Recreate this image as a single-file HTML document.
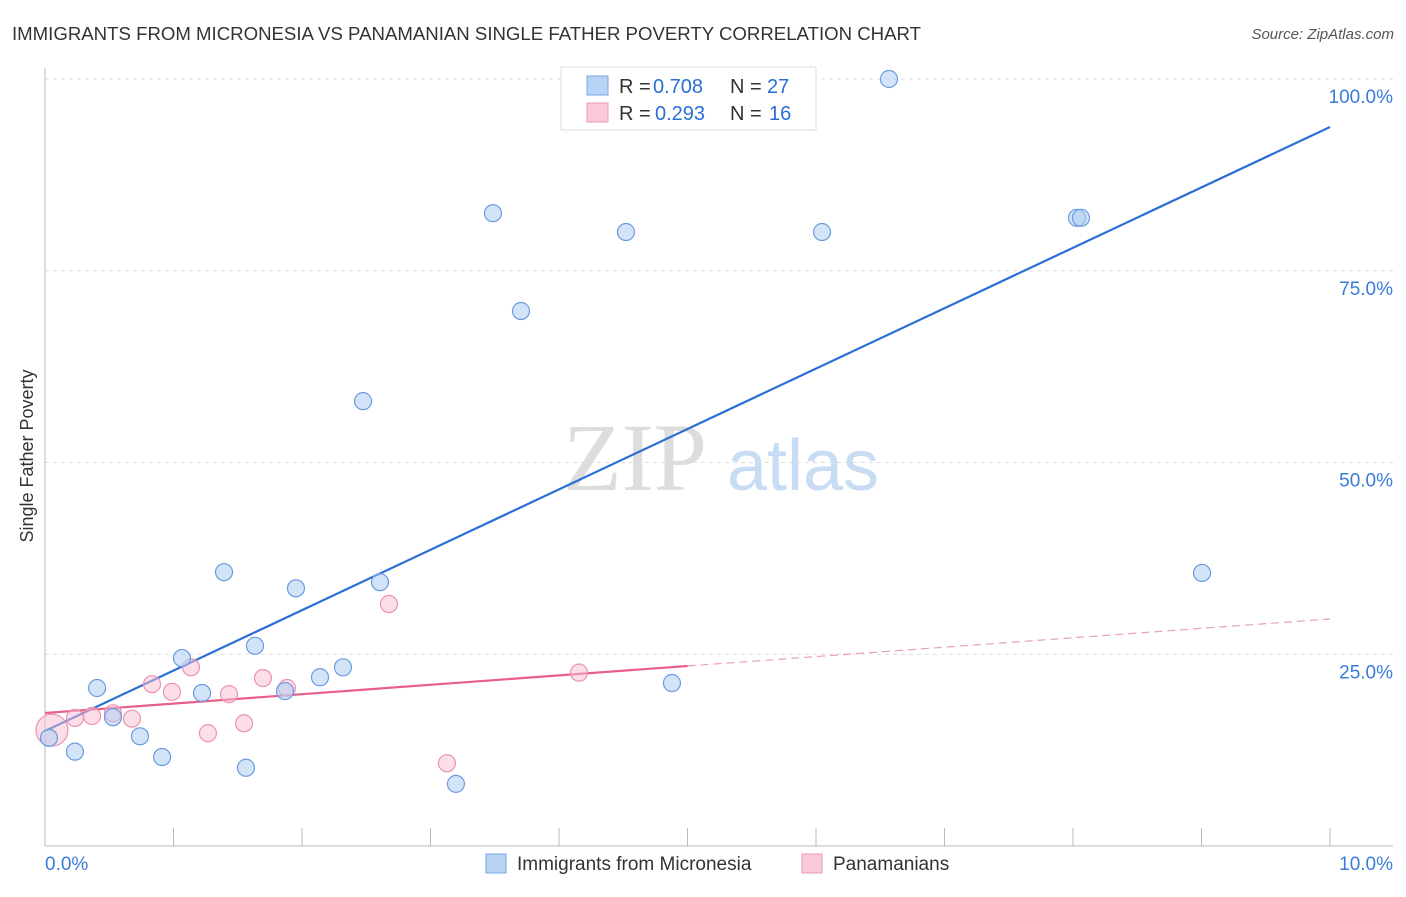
<!DOCTYPE html>
<html><head><meta charset="utf-8"><style>
body{margin:0;background:#fff;font-family:"Liberation Sans",sans-serif;}
svg text{font-family:"Liberation Sans",sans-serif;}
</style></head><body>
<svg id="chart" width="1406" height="892">
<text x="12" y="40" font-size="18" fill="#333" textLength="909" lengthAdjust="spacingAndGlyphs">IMMIGRANTS FROM MICRONESIA VS PANAMANIAN SINGLE FATHER POVERTY CORRELATION CHART</text>
<text x="1394" y="39" font-size="15" fill="#555" text-anchor="end" font-style="italic">Source: ZipAtlas.com</text>
<text x="33" y="456" font-size="18" fill="#333" text-anchor="middle" transform="rotate(-90 33 456)">Single Father Poverty</text>
<g>
<text x="635" y="490" font-size="96" fill="#ddd" font-family="Liberation Serif" text-anchor="middle" style="font-family:'Liberation Serif',serif">ZIP</text>
<text x="803" y="490" font-size="72" fill="#c8dcf4" text-anchor="middle">atlas</text>
</g>
<g id="grid"></g><g id="axes"></g><g id="lines"></g><g id="pts"></g>
<g>
<rect x="561" y="67" width="255" height="63" fill="#fff" stroke="#ddd"/>
<rect x="587" y="76" width="21" height="19" fill="#b9d3f5" stroke="#7aa6e6"/>
<rect x="587" y="103" width="21" height="19" fill="#f9c9d8" stroke="#ee9ab4"/>
<text x="619" y="93" font-size="20" fill="#333">R =</text>
<text x="653" y="93" font-size="20" fill="#2a6fd6">0.708</text>
<text x="730" y="93" font-size="20" fill="#333">N =</text>
<text x="767" y="93" font-size="20" fill="#2a6fd6">27</text>
<text x="619" y="120" font-size="20" fill="#333">R =</text>
<text x="655" y="120" font-size="20" fill="#2a6fd6">0.293</text>
<text x="730" y="120" font-size="20" fill="#333">N =</text>
<text x="769" y="120" font-size="20" fill="#2a6fd6">16</text>
</g>
<g>
<rect x="486" y="854" width="20" height="19" fill="#b9d3f5" stroke="#7aa6e6"/>
<text x="517" y="870" font-size="19" fill="#333">Immigrants from Micronesia</text>
<rect x="802" y="854" width="20" height="19" fill="#f9c9d8" stroke="#ee9ab4"/>
<text x="833" y="870" font-size="19" fill="#333">Panamanians</text>
</g>
</svg>
<script>
const blueX=[0.031,0.233,0.405,0.529,0.739,0.911,1.066,1.222,1.393,1.564,1.634,1.868,1.953,2.140,2.319,2.475,2.607,3.198,3.486,3.704,4.521,4.879,6.047,6.568,8.031,8.062,9.004];
const blueY=[14.1,12.3,20.6,16.8,14.3,11.6,24.5,19.95,35.7,10.2,26.1,20.2,33.6,22.0,23.3,58.0,34.4,8.1,82.5,69.75,80.05,21.25,80.05,100.0,81.9,81.9,35.6];
const pinkX=[0.054,0.233,0.366,0.529,0.677,0.833,0.988,1.136,1.268,1.432,1.549,1.696,1.883,2.677,3.128,4.156];
const pinkY=[15.1,16.7,16.95,17.3,16.6,21.1,20.1,23.3,14.7,19.8,16.0,21.9,20.6,31.55,10.8,22.6];
const blueTrend=[15.0,93.74];
const pinkTrend=[17.34,29.6];
const yTicks=[25,50,75,100];
const xTicks=[0,1,2,3,4,5,6,7,8,9,10];
const NS="http://www.w3.org/2000/svg";
const X=v=>45+v*128.5, Y=v=>846-v*7.67;
function mk(p,tag,a){const e=document.createElementNS(NS,tag);for(const k in a)e.setAttribute(k,a[k]);document.getElementById(p).appendChild(e);return e;}
yTicks.forEach(t=>{
 const l=mk('grid','line',{x1:45,x2:1393,y1:Y(t),y2:Y(t),stroke:'#ddd','stroke-dasharray':'4,4'});
 
 
 const tx=mk('grid','text',{x:1393,y:Y(t)+24,'font-size':19,fill:'#3b7bd8','text-anchor':'end'});
 tx.textContent=t.toFixed(1)+'%';
 
 
});
let ax=mk('axes','line',{x1:45,x2:45,y1:68,y2:846,stroke:'#bbb'});


ax=mk('axes','line',{x1:45,x2:1393,y1:846,y2:846,stroke:'#bbb'});


xTicks.forEach(t=>{const l=mk('axes','line',{x1:X(t),x2:X(t),y1:828,y2:846,stroke:'#bbb'});
 
 });
[[0,'0.0%','start',45],[10,'10.0%','end',1393]].forEach(d=>{const t=mk('axes','text',{x:d[3],y:870,'font-size':19,fill:'#3b7bd8','text-anchor':d[2]});t.textContent=d[1];
 
 });
let bl=mk('lines','line',{x1:X(0),y1:Y(blueTrend[0]),x2:X(10),y2:Y(blueTrend[1]),stroke:'#2a6fd6','stroke-width':2.2});


const pm=pinkTrend[0]+(pinkTrend[1]-pinkTrend[0])*0.5;
let pl=mk('lines','line',{x1:X(0),y1:Y(pinkTrend[0]),x2:X(5),y2:Y(pm),stroke:'#e8608a','stroke-width':2.2});


pl=mk('lines','line',{x1:X(5),y1:Y(pm),x2:X(10),y2:Y(pinkTrend[1]),stroke:'#e8a0b6','stroke-width':1.2,'stroke-dasharray':'8,5'});


pinkX.forEach((x,i)=>{const c=mk('pts','circle',{cx:X(x),cy:Y(pinkY[i]),r:i==0?16:8.5,fill:'rgba(248,190,208,0.5)',stroke:'#ea94b0','stroke-width':1.2});
 
 });
blueX.forEach((x,i)=>{const c=mk('pts','circle',{cx:X(x),cy:Y(blueY[i]),r:8.5,fill:'rgba(175,205,243,0.55)',stroke:'#6a9be0','stroke-width':1.2});
 
 });
</script>
</body></html>
